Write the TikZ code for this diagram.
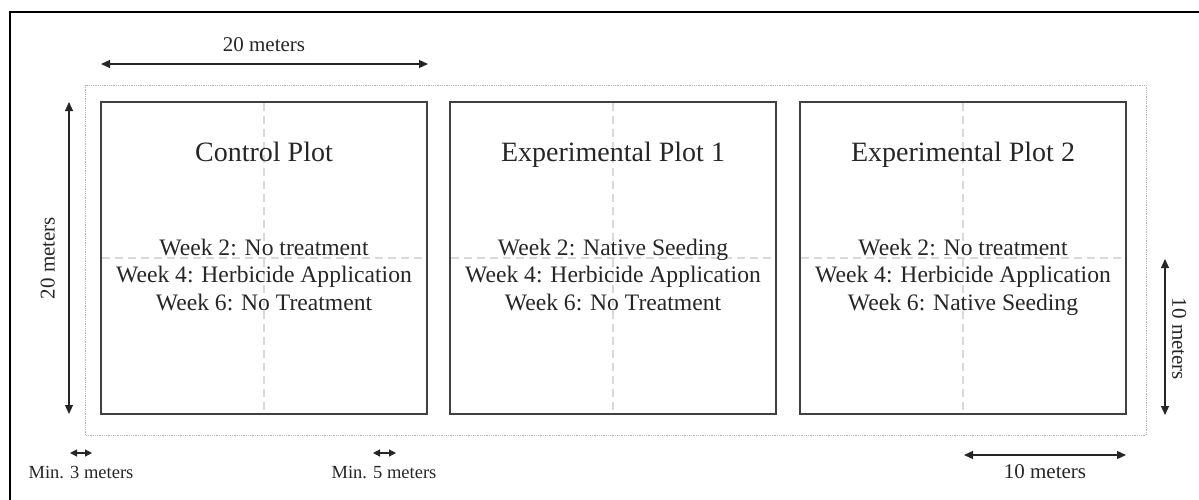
\documentclass[tikz,border=0pt]{standalone}
\usepackage{fontspec}
\setmainfont{Liberation Serif}
\usetikzlibrary{arrows.meta,positioning}

\definecolor{boxgray}{HTML}{404040}
\definecolor{txtgray}{HTML}{262626}
\definecolor{midgray}{HTML}{D9D9D9}
\definecolor{zonegray}{HTML}{B4B4B4}

\begin{document}
\begin{tikzpicture}[%
    x=1pt, y=-1pt,
    every node/.style={text=txtgray, inner sep=0pt},
    plot/.style={draw=boxgray, line width=2pt,
        minimum width=326pt, minimum height=312pt},
    midline/.style={draw=midgray, line width=1.5pt,
        dash pattern=on 8pt off 5pt, shorten >=2pt, shorten <=2pt},
    zone/.style={draw=zonegray, line width=0.8pt, densely dotted},
    dim/.style={draw=txtgray, line width=1.2pt,
        {Triangle[length=9pt,width=8pt]}-{Triangle[length=9pt,width=8pt]}},
    mindim/.style={draw=txtgray, line width=1.2pt,
        {Triangle[length=7pt,width=7pt]}-{Triangle[length=7pt,width=7pt]}},
    title/.style={anchor=base, font=\fontsize{28}{33}\selectfont},
    weeks/.style={anchor=base, align=center,
        font=\fontsize{23.6}{27.5}\selectfont},
    dimlbl/.style={font=\fontsize{21}{25}\selectfont},
    minlbl/.style={anchor=base, font=\fontsize{18.5}{22}\selectfont},
]
\useasboundingbox (0,0) rectangle (1199,499);

% frame (top and left edge only)
\draw[line width=2pt] (10,500) -- (10,12) -- (1200,12);

% buffer zone round the plots
\draw[zone] (85,85) rectangle (1146,435);

% the three plots
\node[plot] (ctl)  at (264,258) {};
\node[plot] (exp1) at (613,258) {};
\node[plot] (exp2) at (963,258) {};

% quarter lines
\foreach \p in {ctl,exp1,exp2}{
    \draw[midline] (\p.north) -- (\p.south);
    \draw[midline] (\p.west) -- (\p.east);
}

% plot names
\node[title] (ctlname)  at (264,161) {Control Plot};
\node[title] (exp1name) at (613,161) {Experimental Plot 1};
\node[title] (exp2name) at (963,161) {Experimental Plot 2};

% treatment schedules
\node[weeks] (ctlweeks) at (264,310)
    {Week 2: No treatment \\ Week 4: Herbicide Application \\ Week 6: No Treatment};
\node[weeks] (exp1weeks) at (613,310)
    {Week 2: Native Seeding \\ Week 4: Herbicide Application \\ Week 6: No Treatment};
\node[weeks] (exp2weeks) at (963,310)
    {Week 2: No treatment \\ Week 4: Herbicide Application \\ Week 6: Native Seeding};

% plot width
\coordinate (wl) at (101,64);
\coordinate (wr) at (428,64);
\draw[dim] (wl) -- (wr);
\node[dimlbl, anchor=base] (wlbl) at (264,51) {20 meters};

% plot height
\coordinate (ht) at (69,102);
\coordinate (hb) at (69,414);
\draw[dim] (ht) -- (hb);
\node[dimlbl, rotate=90, anchor=south] (hlbl) at (55,258) {20 meters};

% half plot height
\coordinate (qt) at (1165,259);
\coordinate (qb) at (1165,415);
\draw[dim] (qt) -- (qb);
\node[dimlbl, rotate=-90, anchor=south] (qlbl) at (1172,339) {10 meters};

% half plot width
\coordinate (sl) at (964,455);
\coordinate (sr) at (1126,455);
\draw[dim] (sl) -- (sr);
\node[dimlbl, anchor=base] (slbl) at (1045,478) {10 meters};

% minimum distances
\coordinate (m3l) at (70,453);
\coordinate (m3r) at (92,453);
\draw[mindim] (m3l) -- (m3r);
\node[minlbl] (m3lbl) at (81,478) {Min. 3 meters};

\coordinate (m5l) at (373,453);
\coordinate (m5r) at (396,453);
\draw[mindim] (m5l) -- (m5r);
\node[minlbl] (m5lbl) at (384,478) {Min. 5 meters};

\end{tikzpicture}
\end{document}
